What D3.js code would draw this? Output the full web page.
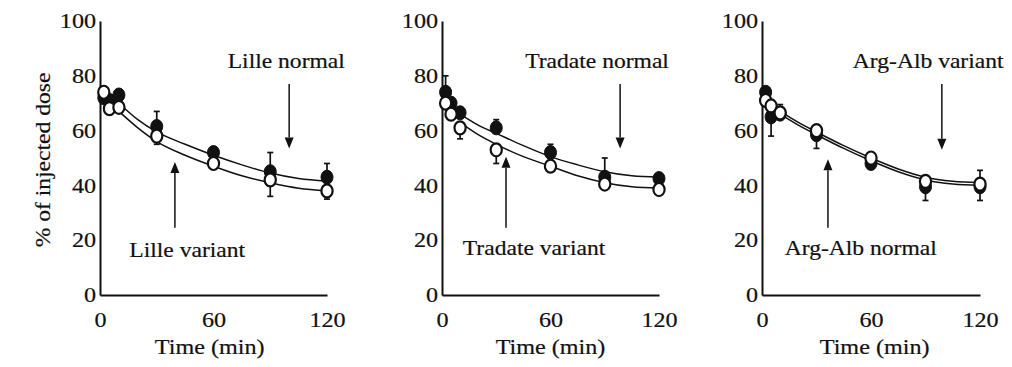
<!DOCTYPE html>
<html>
<head>
<meta charset="utf-8">
<script src="https://cdn.jsdelivr.net/npm/d3@7"></script>
<style>
  html, body { margin: 0; padding: 0; background: #fff; }
  svg { display: block; }
  text { font-family: "Liberation Serif", "Times New Roman", serif; fill: #111; stroke: #111; stroke-width: 0.2px; }
</style>
</head>
<body>
<svg id="chart" width="1012" height="367"></svg>
<script>
// ---------- data ----------
const times    = [2, 5, 10, 30, 60, 90, 120];
const fitTimes = [10, 20, 30, 45, 60, 75, 90, 105, 120];
const yTicks   = [0, 20, 40, 60, 80, 100];
const xTicks   = [0, 60, 120];
const yTitle   = "% of injected dose";
const xTitle   = "Time (min)";

// Lille
const lilleNormal      = [72, 71, 73, 61.5, 52, 45, 43];
const lilleNormalErr   = [2, 2, 2, 5.5, 1, 7, 5];
const lilleVariant     = [74, 68, 68.5, 58, 48, 42, 38];
const lilleVariantErr  = [-2, -2, -1, -3, -1, -6, -3];
const lilleNormalFit   = [70, 64, 59.5, 55, 51, 47.5, 44.5, 42.5, 41.5];
const lilleVariantFit  = [67, 61, 56, 51, 47, 43.5, 41, 39, 38];

// Tradate
const tradateNormal     = [74, 70, 66.5, 61, 52, 43, 42.5];
const tradateNormalErr  = [6, 2, 2, 3, 3, 7, 1];
const tradateVariant    = [70, 66, 61, 53, 47, 40.5, 38.5];
const tradateVariantErr = [-2, -2, -4, -5, -1, -1, -1];
const tradateNormalFit  = [66, 62, 59, 54.5, 50.5, 47.5, 45, 43.5, 43];
const tradateVariantFit = [63, 58.5, 55, 50.5, 47, 43.5, 41, 39.5, 39];

// Arg-Alb
const argNormal     = [74, 65, 66, 58.5, 48, 39.5, 39.5];
const argNormalErr  = [-2, -7, -2, -5, -2, -5, -5];
const argVariant    = [71, 69, 66.5, 60, 50, 41.5, 40.5];
const argVariantErr = [2, 2, 3, 1, 1, 1, 5];
const argVariantFit = [67, 63, 59.5, 54.5, 50, 46, 43, 41.5, 41];
const argNormalFit  = [66, 62, 58.5, 53.5, 49, 45, 42, 40.5, 40];

const panelLabels = [
  ["Lille normal", "Lille variant"],
  ["Tradate normal", "Tradate variant"],
  ["Arg-Alb variant", "Arg-Alb normal"]
];

// ---------- layout ----------
const panels = [
  { x0: 100, x1: 327,
    filled: lilleNormal, filledErr: lilleNormalErr,
    open: lilleVariant, openErr: lilleVariantErr,
    fits: [lilleNormalFit, lilleVariantFit],
    labels: panelLabels[0],
    topText: { t: 67.5, v: 83 }, downArrow: { t: 100, v0: 77, v1: 53.5 },
    botText: { t: 15.5, v: 14 },  upArrow: { t: 39.6, v0: 24.5, v1: 48.5 },
    titleT: 58 },
  { x0: 442, x1: 659,
    filled: tradateNormal, filledErr: tradateNormalErr,
    open: tradateVariant, openErr: tradateVariantErr,
    fits: [tradateNormalFit, tradateVariantFit],
    labels: panelLabels[1],
    topText: { t: 46, v: 83 }, downArrow: { t: 98.5, v0: 77, v1: 53.5 },
    botText: { t: 11.5, v: 14.5 }, upArrow: { t: 35.4, v0: 24.5, v1: 50.5 },
    titleT: 60 },
  { x0: 762, x1: 980,
    filled: argNormal, filledErr: argNormalErr,
    open: argVariant, openErr: argVariantErr,
    fits: [argVariantFit, argNormalFit],
    labels: panelLabels[2],
    topText: { t: 50, v: 83 }, downArrow: { t: 99, v0: 77, v1: 53 },
    botText: { t: 12.5, v: 14.5 }, upArrow: { t: 36.3, v0: 24.5, v1: 49.5 },
    titleT: 62 }
];

const SX = 1.15;           // horizontal stretch of the scanned serif font
const FONT = '"Liberation Serif", "Times New Roman", serif';
const svg = d3.select("#chart");
const y = d3.scaleLinear().domain([0, 100]).range([295, 21]);

function stretchText(sel) {
  sel.each(function() {
    const t = d3.select(this);
    const x = +t.attr("x") || 0;
    t.attr("x", x / SX).attr("transform", `scale(${SX},1)`);
  });
}

// y title
svg.append("text")
  .attr("transform", `translate(50,160) rotate(-90) scale(${SX},1)`)
  .attr("text-anchor", "middle")
  .style("font-size", "20.5px")
  .text(yTitle);

panels.forEach(p => {
  const x = d3.scaleLinear().domain([0, 120]).range([p.x0, p.x1]);
  const g = svg.append("g");

  // axes
  const ya = g.append("g").attr("transform", `translate(${p.x0},0)`)
    .call(d3.axisLeft(y).tickValues(yTicks).tickSize(0).tickSizeOuter(0).tickPadding(4));
  const xa = g.append("g").attr("transform", `translate(0,${y(0)})`)
    .call(d3.axisBottom(x).tickValues(xTicks).tickSize(0).tickSizeOuter(0).tickPadding(17));
  [ya, xa].forEach(a => {
    a.attr("font-family", FONT).attr("font-size", 21);
    a.select(".domain").attr("stroke", "#111").attr("stroke-width", 2);
    a.selectAll("text").style("font-size", "21px").attr("fill", "#111")
      .style("font-family", FONT);
    stretchText(a.selectAll("text"));
  });

  // x title
  svg.append("text")
    .attr("transform", `translate(${x(p.titleT)},354) scale(${SX},1)`)
    .attr("text-anchor", "middle")
    .style("font-size", "21px")
    .text(xTitle);

  // fitted curves
  const line = d3.line().x((d, i) => x(fitTimes[i])).y(d => y(d)).curve(d3.curveMonotoneX);
  p.fits.forEach(f => {
    g.append("path").attr("d", line(f)).attr("fill", "none")
      .attr("stroke", "#111").attr("stroke-width", 1.5);
  });

  // error bars
  function errBars(vals, errs) {
    vals.forEach((v, i) => {
      const e = errs[i];
      if (Math.abs(e) < 1.5) return;
      const cx = x(times[i]);
      g.append("line").attr("x1", cx).attr("x2", cx)
        .attr("y1", y(v)).attr("y2", y(v + e))
        .attr("stroke", "#111").attr("stroke-width", 1.7);
      g.append("line").attr("x1", cx - 3).attr("x2", cx + 3)
        .attr("y1", y(v + e)).attr("y2", y(v + e))
        .attr("stroke", "#111").attr("stroke-width", 1.7);
    });
  }
  errBars(p.filled, p.filledErr);
  errBars(p.open, p.openErr);

  // markers
  g.selectAll(null).data(p.filled).enter().append("ellipse")
    .attr("cx", (d, i) => x(times[i])).attr("cy", d => y(d))
    .attr("rx", 6).attr("ry", 7)
    .attr("fill", "#111").attr("stroke", "#111").attr("stroke-width", 1);
  g.selectAll(null).data(p.open).enter().append("ellipse")
    .attr("cx", (d, i) => x(times[i])).attr("cy", d => y(d))
    .attr("rx", 5.6).attr("ry", 6.5)
    .attr("fill", "#fff").attr("stroke", "#111").attr("stroke-width", 2.2);

  // annotations
  g.append("text")
    .attr("transform", `translate(${x(p.topText.t)},${y(p.topText.v)}) scale(${SX},1)`)
    .style("font-size", "20.5px").text(p.labels[0]);
  g.append("text")
    .attr("transform", `translate(${x(p.botText.t)},${y(p.botText.v)}) scale(${SX},1)`)
    .style("font-size", "20.5px").text(p.labels[1]);

  function arrow(a) {
    const ax = x(a.t), ya0 = y(a.v0), ya1 = y(a.v1);
    const dir = ya1 > ya0 ? 1 : -1;
    const headLen = 11, headW = 4.5;
    g.append("line").attr("x1", ax).attr("x2", ax)
      .attr("y1", ya0).attr("y2", ya1 - dir * headLen)
      .attr("stroke", "#111").attr("stroke-width", 1.5);
    g.append("path")
      .attr("d", `M${ax},${ya1} L${ax - headW},${ya1 - dir * headLen} L${ax + headW},${ya1 - dir * headLen} Z`)
      .attr("fill", "#111");
  }
  arrow(p.downArrow);
  arrow(p.upArrow);
});
</script>
</body>
</html>
